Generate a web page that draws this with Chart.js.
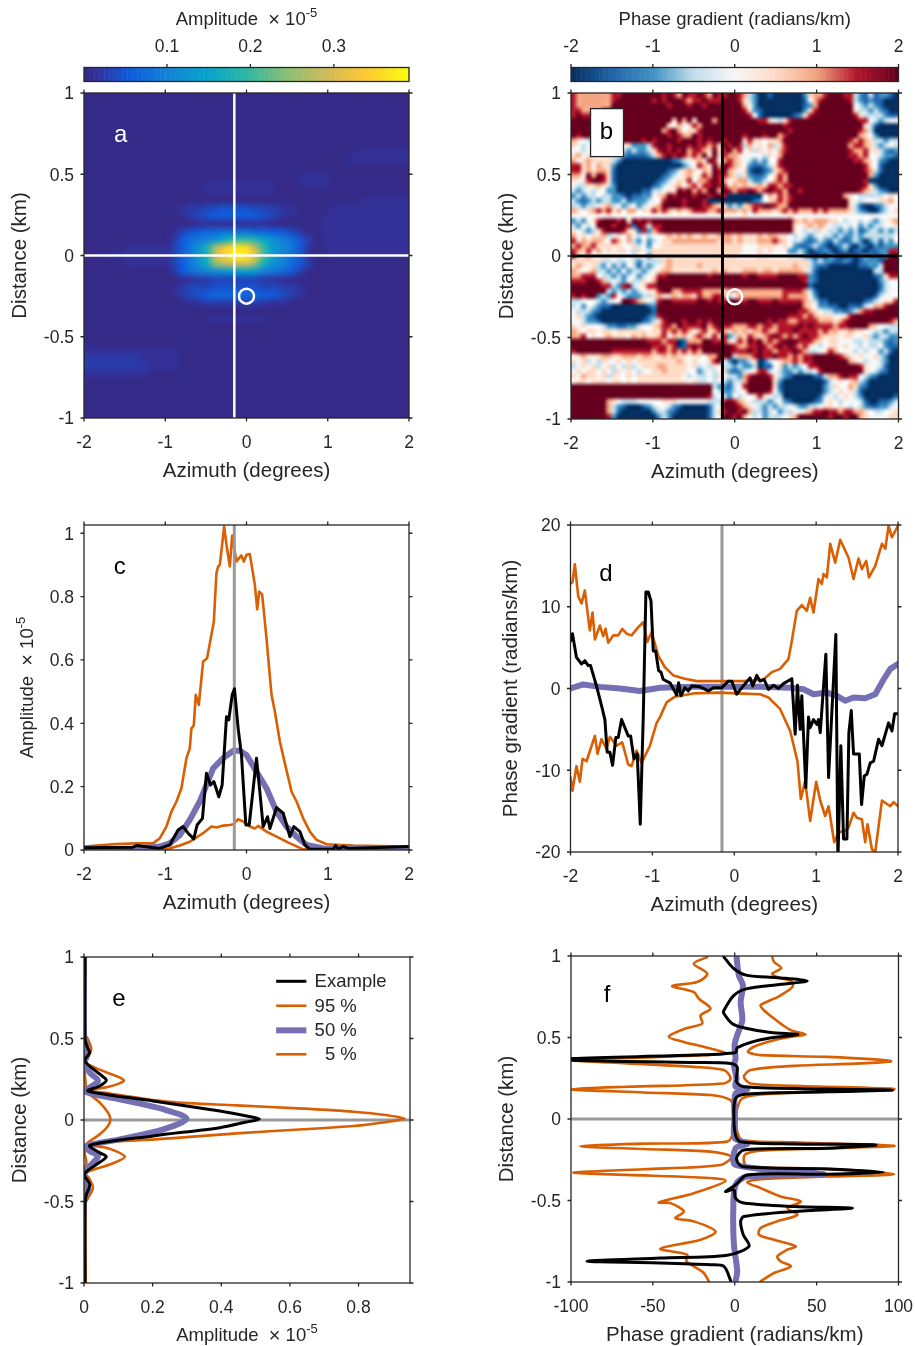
<!DOCTYPE html>
<html>
<head>
<meta charset="utf-8">
<title>Amplitude and phase gradient</title>
<script src="https://cdn.jsdelivr.net/npm/chart.js@4/dist/chart.umd.min.js"></script>
<style>
  body { margin: 0; background: #fff; }
  #fig { position: relative; width: 915px; height: 1346px; overflow: hidden; }
  canvas { position: absolute; }
</style>
</head>
<body>
<div id="fig"></div>
<script>
// axis ticks
const azimuthTicks = [-2, -1, 0, 1, 2];
const distanceTicks = [-1, -0.5, 0, 0.5, 1];
const ampBarTicks = [0.1, 0.2, 0.3];
const phaseBarTicks = [-2, -1, 0, 1, 2];
const ampYTicks = [0, 0.2, 0.4, 0.6, 0.8, 1];
const phaseYTicks = [-20, -10, 0, 10, 20];
const ampXTicks = [0, 0.2, 0.4, 0.6, 0.8];
const phaseXTicks = [-100, -50, 0, 50, 100];
const legendLabels = ["Example", "95 %", "50 %", "  5 %"];

// reference lines
const refAzimuth = -0.15;
const examplePoint = [{ x: 0, y: -0.25 }];

// panel a: amplitude grid, one char per cell (base 36, each step 0.011), top row is 1 km
const ampStep = 0.011;
const ampGrid = [
  "0000000000 0000000000 0000000000 0000000000 0",
  "0000000000 0000000000 0000000000 0000000000 0",
  "0000000000 0000000000 0000000000 0000000000 0",
  "0000000000 0000000000 0000000000 0000000000 0",
  "0000000000 0000000000 0000000000 0000000000 0",
  "0000000000 0000000000 0000000000 0000000000 0",
  "0000000000 0000000000 0000000000 0000000000 0",
  "0000000000 0000000000 0000000000 0000111111 1",
  "0000000000 0000000000 0000000000 0001111111 1",
  "0000000000 0000000000 0000000000 0000000000 0",
  "0000000000 0000000000 0000000111 1000000000 0",
  "0000000000 0000011111 1111000111 1000000000 0",
  "0000000000 0000011111 1111000000 0000000000 0",
  "0000000000 0000000000 0000000000 0000011111 1",
  "0000000000 0112233444 4332211000 0111111111 1",
  "0000000000 0012345555 5543211000 1111111111 1",
  "0000000000 0000111111 1111000000 1111111111 1",
  "0000000000 0134566777 7665543100 1111111111 1",
  "0000000000 025789behi ihec986420 1111111111 1",
  "0000011111 1358bgntwx wqjdb97410 1111111111 1",
  "0001111111 1368cgpvyz ytkfa86410 0111111111 1",
  "0000011111 1358bfmpqr rnhca86420 0000000000 0",
  "0000000000 025789abcd dc98764200 0000000000 0",
  "0000000000 0011223333 3322110000 0000000000 0",
  "0000000000 0123334444 4433322100 0000000000 0",
  "0000000000 0123456667 6655432100 0000000000 0",
  "0000000000 0001122222 2221110000 0000000000 0",
  "0000000000 0000000000 0000000000 0000000000 0",
  "0000000000 0000011111 1110000000 0000000000 0",
  "0000000000 0000000000 0000000000 0000000000 0",
  "0000000000 0000000000 0000000000 0000000000 0",
  "0000000000 0000000000 0000000000 0000000000 0",
  "1111111111 1100000000 0000000000 0000000000 0",
  "2222222111 1100000000 0000000000 0000000000 0",
  "2222222211 1100000000 0000000000 0000000000 0",
  "1111111100 0000000000 0000000000 0000000000 0",
  "0000000000 0000000000 0000000000 0000000000 0",
  "0000000000 0000000000 0000000000 0000000000 0",
  "0000000000 0000000000 0000000000 0000000000 0",
  "0000000000 0000000000 0000000000 0000000000 0",
  "0000000000 0000000000 0000000000 0000000000 0"
];

// panel b: phase gradient grid, digit 0..8 means -2..2 rad/km, top row is 1 km
const phaseGrid = [
  "76666 66677 88888 88878 76877 87687 78876 32001 00000 02566 78887 73213 12210",
  "76666 66678 88888 87878 88767 78777 88875 32000 00000 01467 88888 73212 11000",
  "76666 66688 88888 88887 88878 87888 88886 42000 00000 01268 88888 84323 21000",
  "77666 67888 88888 88888 88888 88888 88887 52100 00000 02578 88888 85332 32100",
  "78777 78888 88888 88888 88888 88888 88888 74100 00001 25788 88888 87533 33211",
  "88888 88888 88888 88888 58685 88868 88888 88775 43578 88888 88888 88774 32344",
  "88888 88888 88888 88885 46457 68888 88888 88888 88788 88888 88888 88853 10000",
  "88888 88888 88888 88867 86455 78888 88888 88888 88878 88888 88888 88763 00000",
  "87888 88888 88888 88887 87668 78888 88887 88878 86788 88888 88888 88654 20000",
  "65434 48888 88887 87888 87888 78788 78885 75545 56888 88888 88888 76765 33233",
  "54343 34444 45222 37887 88878 77675 87873 64546 35788 88888 88888 67765 32343",
  "44343 34444 32322 35787 87867 76585 78674 53545 46788 88888 88888 76675 53212",
  "56454 44434 21111 23678 78767 68585 76654 44435 46888 88888 88888 77674 43221",
  "64565 55532 00000 00000 12345 65874 67654 32324 47888 88888 88888 87765 42100",
  "77564 65520 00000 00000 00234 76586 87654 21123 57888 88888 88888 88875 41000",
  "77565 66510 00000 00001 23565 46587 86545 10012 56788 88888 88888 88876 31000",
  "66486 87510 00000 00012 34564 57687 76535 21124 57688 88888 88888 88886 20000",
  "54578 87510 00000 00123 45574 66787 64566 32234 67688 88888 88888 88870 00000",
  "43355 65320 00000 01234 56467 57787 75656 55657 76778 88888 88888 88875 20000",
  "32343 44220 00001 13345 58786 76886 87677 87678 77688 78888 88888 88765 32100",
  "23233 43322 10112 24568 78887 88788 70000 00046 57678 88888 88886 54333 33454",
  "32123 23322 31222 34478 88788 87000 00000 01245 67678 88888 88888 54344 45564",
  "33233 45634 23423 45688 88788 87765 52325 67788 76688 88888 88888 53100 12344",
  "65456 76756 46645 57676 56567 77667 66656 57666 56767 66676 76666 53210 02345",
  "44444 44544 44444 44444 44444 44444 44445 44444 44454 44444 44444 44444 44444",
  "23245 78887 85878 78888 88888 88888 88888 88888 88886 56566 65543 44343 23456",
  "32434 88878 87187 37788 88888 88888 88888 88888 88885 45656 54334 34232 33445",
  "54323 57888 75517 26788 88888 88888 88888 88888 88885 43435 43323 23123 32323",
  "64545 56345 46434 34456 56565 56556 66565 55656 65543 43234 33232 23233 33334",
  "75656 65476 46324 23455 66666 66665 66565 55666 76543 32123 21321 23202 31324",
  "67667 55555 44534 24455 55555 55555 55554 44555 54542 11232 10123 10210 21222",
  "76575 64545 54354 35555 55555 55555 55554 44545 44422 32011 21012 01101 12277",
  "75564 45454 44344 25555 55555 55555 55544 44554 44433 32101 02100 10121 11288",
  "55555 53343 34323 33356 55555 55555 55555 55555 55555 55323 22112 10122 21888",
  "56545 32423 24313 23456 55555 65555 55555 55555 55556 55321 10000 00112 23888",
  "65456 33232 42332 34566 55555 55565 65556 66566 56666 65310 00000 00000 33888",
  "66777 43323 23423 45778 88888 88788 88887 88777 78888 77210 00000 00000 12577",
  "77788 76343 24335 46888 88888 88888 88888 88888 88888 87210 00000 00000 02344",
  "88888 87732 78345 77888 88888 88888 88888 88888 88888 88100 00000 00000 01344",
  "88888 88323 23234 55788 66777 76666 56666 66666 66777 76310 00000 00000 02344",
  "78788 23274 32223 35655 65665 76677 63466 66666 66766 66420 00000 00000 13444",
  "33444 32344 88765 43788 77777 88787 78877 88777 87777 76531 10000 00012 34557",
  "34243 21100 00000 12888 88888 88888 88888 88888 88888 86542 21100 11134 66788",
  "43332 10000 00000 01888 88888 88888 88888 88888 88888 77654 33221 23677 88888",
  "45321 00000 00000 12788 88888 88888 88888 88888 88877 76765 55445 78888 88888",
  "44322 10000 00001 23578 88788 78788 88888 88887 87766 77776 66567 88888 88876",
  "54544 43221 12234 45677 68777 78678 77666 77677 67777 87877 77677 88886 54433",
  "65455 45545 55555 45576 76764 67567 65656 56676 67778 77776 76655 65544 33233",
  "66745 45655 54656 55674 65646 76575 72365 76567 87676 78776 55545 54453 23322",
  "88888 88888 88888 77767 70166 68877 75576 87867 67888 77765 45544 43343 33212",
  "88888 88888 88888 87776 70178 78888 88766 77876 78787 67543 45545 44343 34211",
  "78888 88877 77777 76776 76767 68888 88777 87877 67778 76334 57644 43434 42310",
  "45655 56655 66656 65565 65545 54668 88366 67877 87767 67788 88876 54544 53200",
  "54534 35445 45455 55555 56545 44578 42022 35013 45667 67788 88888 65434 43200",
  "34545 34534 35345 55665 55545 34354 33232 23011 45232 34778 88888 88754 43100",
  "45455 45435 45434 45565 55544 23434 52123 45773 43223 23347 88888 88854 32100",
  "54655 45354 45455 55555 55434 33435 43326 78887 53210 00011 36678 77432 10000",
  "45545 55455 45455 55555 55545 33434 32336 88888 52000 00000 13454 56320 00000",
  "88888 88888 88888 88888 88888 88832 21347 88888 51000 00000 23544 65210 00000",
  "88888 88888 88888 88888 88888 88843 22345 88887 42000 00000 23454 53100 00000",
  "88888 88888 88888 88888 88888 88734 32434 45754 33000 00001 34345 43200 00001",
  "88888 88654 33344 44455 54444 44333 78765 43332 34210 00012 45434 44310 01123",
  "88888 88632 10001 23443 21000 00134 88876 54323 23343 22334 55454 34321 12234",
  "88888 88631 00000 02332 10000 00135 78878 63323 42334 45677 87767 76654 33445",
  "88888 88720 00000 00232 00000 00134 88786 43423 33456 88888 87887 88654 44455"
];

// panel c: amplitude along azimuth
const cHighX = [-2, -1.766, -1.602, -1.355, -1.15, -1.068, -0.986, -0.924, -0.862, -0.801, -0.739, -0.698, -0.678, -0.649, -0.624, -0.587, -0.534, -0.485, -0.402, -0.37, -0.349, -0.328, -0.275, -0.246, -0.205, -0.176, -0.156, -0.123, -0.062, -0.033, 0, 0.041, 0.103, 0.132, 0.156, 0.193, 0.246, 0.308, 0.349, 0.411, 0.472, 0.555, 0.616, 0.698, 0.78, 0.862, 0.986, 1.314, 2];
const cHighY = [0.011, 0.016, 0.019, 0.021, 0.021, 0.037, 0.074, 0.121, 0.153, 0.195, 0.29, 0.321, 0.384, 0.393, 0.49, 0.458, 0.595, 0.605, 0.721, 0.874, 0.895, 0.9, 1.021, 0.963, 0.895, 0.993, 0.958, 0.911, 0.93, 0.911, 0.932, 0.934, 0.837, 0.76, 0.816, 0.806, 0.669, 0.49, 0.437, 0.342, 0.274, 0.184, 0.153, 0.1, 0.058, 0.032, 0.018, 0.014, 0.011];
const cLowX = [-2, -1.15, -0.986, -0.821, -0.698, -0.534, -0.431, -0.37, -0.287, -0.205, -0.164, -0.103, -0.041, 0.041, 0.103, 0.144, 0.246, 0.37, 0.534, 0.698, 0.945, 2];
const cLowY = [0.005, 0.002, 0.002, 0.014, 0.026, 0.053, 0.074, 0.071, 0.077, 0.079, 0.081, 0.097, 0.09, 0.074, 0.068, 0.076, 0.058, 0.042, 0.021, 0.002, 0.001, 0.002];
const cMidX = [-2, -1.355, -1.068, -0.945, -0.821, -0.698, -0.575, -0.493, -0.411, -0.287, -0.164, -0.082, 0, 0.123, 0.246, 0.37, 0.493, 0.616, 0.739, 0.945, 2];
const cMidY = [0.002, 0.005, 0.011, 0.021, 0.047, 0.095, 0.153, 0.205, 0.258, 0.29, 0.313, 0.313, 0.3, 0.247, 0.195, 0.121, 0.074, 0.042, 0.016, 0.005, 0.002];
const cExampleX = [-2, -1.396, -1.355, -1.068, -0.945, -0.842, -0.78, -0.719, -0.649, -0.608, -0.542, -0.493, -0.443, -0.402, -0.341, -0.3, -0.246, -0.218, -0.176, -0.148, -0.103, -0.062, -0.008, 0.033, 0.074, 0.123, 0.164, 0.205, 0.259, 0.288, 0.37, 0.452, 0.534, 0.583, 0.657, 0.719, 0.78, 1.068, 1.097, 1.13, 1.191, 1.253, 2];
const cExampleY = [0.007, 0.009, 0.014, 0.005, 0.016, 0.063, 0.074, 0.053, 0.035, 0.079, 0.1, 0.242, 0.205, 0.216, 0.168, 0.205, 0.421, 0.411, 0.49, 0.509, 0.384, 0.3, 0.079, 0.079, 0.174, 0.29, 0.184, 0.074, 0.105, 0.068, 0.134, 0.116, 0.042, 0.074, 0.058, 0.016, 0.002, 0.002, 0.014, 0.003, 0.011, 0.005, 0.011];

// panel d: phase gradient along azimuth
const dHighX = [-2, -1.976, -1.947, -1.906, -1.865, -1.825, -1.764, -1.731, -1.702, -1.641, -1.6, -1.572, -1.539, -1.478, -1.417, -1.368, -1.315, -1.254, -1.172, -1.111, -1.062, -1.009, -0.928, -0.846, -0.744, -0.602, -0.459, -0.174, 0.112, 0.356, 0.458, 0.56, 0.662, 0.703, 0.764, 0.825, 0.886, 0.927, 0.968, 1.029, 1.07, 1.09, 1.131, 1.172, 1.233, 1.294, 1.396, 1.457, 1.518, 1.559, 1.612, 1.645, 1.722, 1.804, 1.845, 1.885, 1.926, 2];
const dHighY = [12.8, 13, 15.2, 11.3, 10.4, 12, 7.1, 9.3, 6, 7.7, 6.4, 7.3, 5.6, 6.5, 6.5, 7.3, 6.7, 6.5, 7.5, 8.1, 5.7, 6.9, 4, 2.6, 1.6, 1.2, 0.9, 0.9, 0.9, 1.1, 2, 2.4, 3.6, 5.8, 9.5, 10.2, 9.5, 11.1, 9.3, 13.4, 12.8, 14, 13.6, 17.7, 15.4, 18.2, 16, 13.4, 15.9, 14.6, 15.6, 13.6, 15, 17.7, 17.1, 19.9, 18.5, 19.9];
const dLowX = [-2, -1.976, -1.927, -1.886, -1.853, -1.804, -1.702, -1.67, -1.621, -1.56, -1.519, -1.437, -1.368, -1.295, -1.254, -1.193, -1.132, -1.03, -0.948, -0.907, -0.826, -0.724, -0.5, -0.174, 0.03, 0.316, 0.418, 0.56, 0.683, 0.772, 0.813, 0.866, 0.927, 1.001, 1.05, 1.111, 1.152, 1.221, 1.274, 1.355, 1.396, 1.457, 1.498, 1.559, 1.6, 1.628, 1.682, 1.722, 1.804, 1.906, 1.946, 2];
const dLowY = [-10.9, -12.5, -9.5, -11.4, -8.6, -8.9, -5.8, -8, -6.2, -7.4, -5.9, -7, -6.6, -9.3, -9.5, -7.6, -9.1, -7, -4.2, -3.5, -1.7, -1, -0.6, -0.5, -0.6, -0.7, -1.1, -2.5, -5.2, -8.9, -13.5, -11.3, -16.2, -11.4, -13.7, -15.6, -14.4, -18.8, -17.6, -17.4, -17, -15.2, -15.8, -16, -18.8, -16.6, -19.7, -20, -13.7, -14.4, -13.9, -14.4];
const dMidX = [-2, -1.845, -1.641, -1.397, -1.152, -0.907, -0.5, -0.092, 0.316, 0.683, 0.846, 0.968, 1.131, 1.253, 1.355, 1.457, 1.6, 1.722, 1.824, 1.906, 2];
const dMidY = [0, 0.5, 0.2, 0, -0.3, 0.1, 0.2, 0.2, 0.2, 0.1, -0.1, -0.7, -0.5, -0.9, -1.5, -1.1, -1.2, -0.7, 1.1, 2.4, 3];
const dExampleX = [-2, -1.976, -1.927, -1.865, -1.825, -1.784, -1.755, -1.682, -1.621, -1.58, -1.552, -1.519, -1.486, -1.446, -1.417, -1.376, -1.295, -1.266, -1.225, -1.185, -1.148, -1.111, -1.079, -1.05, -1.017, -0.989, -0.96, -0.924, -0.895, -0.867, -0.785, -0.703, -0.679, -0.651, -0.602, -0.561, -0.52, -0.418, -0.316, -0.255, -0.153, -0.072, -0.031, 0.03, 0.092, 0.193, 0.226, 0.275, 0.316, 0.365, 0.418, 0.479, 0.54, 0.601, 0.703, 0.744, 0.772, 0.805, 0.825, 0.874, 0.907, 0.927, 0.968, 1.009, 1.029, 1.05, 1.119, 1.152, 1.192, 1.241, 1.266, 1.302, 1.335, 1.376, 1.4, 1.429, 1.457, 1.527, 1.555, 1.588, 1.62, 1.661, 1.702, 1.763, 1.804, 1.885, 1.926, 1.959, 2];
const dExampleY = [5.8, 6.7, 3.8, 3, 3.4, 2.8, 2.8, 0.3, -2.1, -3.8, -7.8, -7.8, -9.4, -6, -6, -3.8, -5.8, -5.8, -8.6, -8, -16.6, -3.3, 11.8, 11.8, 10.7, 4.6, 4.6, 2.2, 2, 1.1, 0.7, -0.8, 0.7, -0.9, 0.1, -0.3, 0.3, 0.2, -0.3, 0.1, 0.1, 0.9, 0.9, -0.7, 0.1, 1.3, 0.3, 1.6, 0.9, 1.1, -0.1, 0.4, 0, 0.6, 1.2, -5.6, 0.4, -5, -0.9, -12.1, -3.5, -4.8, -3.8, -4.4, -3.8, -5.4, 4.2, -10.9, -2.9, 6.6, -21, -7, -18.4, -18.4, -5.4, -2.7, -8, -8, -14.2, -10.7, -10.5, -9.1, -8.9, -6.2, -7, -4.2, -5.2, -3.1, -3.1];

// panel e: amplitude along distance
const eHighX = [0.005, 0.005, 0.009, 0.021, 0.007, 0.055, 0.116, 0.075, 0.007, 0.055, 0.25, 0.445, 0.639, 0.785, 0.883, 0.934, 0.883, 0.785, 0.639, 0.445, 0.25, 0.055, 0.007, 0.065, 0.119, 0.075, 0.005, 0.017, 0.026, 0.012, 0.005, 0.005];
const eHighY = [1, 0.517, 0.506, 0.435, 0.353, 0.301, 0.244, 0.205, 0.178, 0.168, 0.111, 0.09, 0.07, 0.051, 0.029, 0.008, -0.012, -0.037, -0.057, -0.082, -0.113, -0.139, -0.156, -0.17, -0.226, -0.273, -0.324, -0.365, -0.416, -0.478, -0.508, -1];
const eLowX = [0.003, 0.003, 0.004, 0.002, 0.005, 0.007, 0.046, 0.07, 0.077, 0.07, 0.046, 0.007, 0.002, 0.007, 0.001, 0.003, 0.003];
const eLowY = [1, 0.496, 0.373, 0.291, 0.228, 0.178, 0.107, 0.045, 0.004, -0.037, -0.088, -0.149, -0.201, -0.261, -0.324, -0.508, -1];
const eMidX = [0, 0, 0.007, 0.009, 0, 0.017, 0.041, 0.017, 0.005, 0.104, 0.231, 0.299, 0.231, 0.104, 0.005, 0.017, 0.041, 0.017, 0, 0.007, 0.012, 0, -0.003];
const eMidY = [1, 0.517, 0.455, 0.394, 0.353, 0.291, 0.24, 0.199, 0.172, 0.127, 0.066, 0.008, -0.057, -0.119, -0.16, -0.191, -0.221, -0.283, -0.334, -0.385, -0.426, -0.488, -1];
const eExampleX = [0.003, 0.003, 0.012, 0.017, 0.002, 0.046, 0.065, 0.046, 0.012, 0.201, 0.396, 0.47, 0.511, 0.47, 0.396, 0.201, 0.017, 0.046, 0.065, 0.036, 0, 0.017, 0.007, 0.003, 0.003];
const eExampleY = [1, 0.496, 0.435, 0.414, 0.363, 0.281, 0.244, 0.209, 0.178, 0.117, 0.055, 0.026, 0.006, -0.014, -0.047, -0.098, -0.156, -0.201, -0.226, -0.273, -0.334, -0.396, -0.457, -0.508, -1];

// panel f: phase gradient along distance
const fHighX = [22.9, 24, 28.4, 22.9, 26, 34.6, 35.2, 28, 24, 15.8, 17.8, 24, 28, 34.2, 43.3, 34.2, 24, 11.7, 8.1, 15.8, 56.6, 95.3, 77, 36.2, 9.7, 5.6, 9.7, 36.2, 97.4, 56.6, 15.8, 4.6, 1.5, 1.1, 1.5, 4.6, 36.2, 97.4, 56.6, 15.8, 6.6, 5.6, 7.6, 56.6, 97.4, 56.6, 15.8, 7.6, 15.8, 28, 40.3, 32.1, 38.2, 26, 15.8, 14.8, 24, 37.2, 32.1, 26, 28, 34.2, 24, 15.8];
const fHighY = [0.993, 0.963, 0.926, 0.891, 0.871, 0.845, 0.81, 0.759, 0.738, 0.698, 0.667, 0.616, 0.585, 0.545, 0.518, 0.504, 0.483, 0.443, 0.412, 0.392, 0.381, 0.355, 0.341, 0.326, 0.3, 0.259, 0.218, 0.204, 0.184, 0.167, 0.151, 0.126, 0.065, 0, -0.078, -0.129, -0.143, -0.165, -0.18, -0.194, -0.216, -0.261, -0.292, -0.306, -0.339, -0.353, -0.369, -0.388, -0.424, -0.475, -0.506, -0.547, -0.588, -0.628, -0.669, -0.71, -0.741, -0.781, -0.802, -0.843, -0.873, -0.904, -0.945, -0.996];
const fLowX = [-16.8, -25, -16.8, -22.9, -38.2, -25, -21.9, -14.8, -20.9, -19.9, -30.1, -40.3, -31.1, -14.8, -5.6, -45.4, -100, -65.8, -25, -6.6, -2.5, -6.6, -65.8, -100, -55.6, -14.8, -2.5, -0.9, -0.9, -0.9, -4.6, -55.6, -94.3, -55.6, -14.8, -2.1, -8.7, -55.6, -98.4, -65.8, -25, -5.6, -25, -46.4, -39.3, -31.1, -36.2, -25, -11.7, -20.9, -45.4, -29.1, -29.5, -25, -18.9, -15.8];
const fLowY = [0.993, 0.953, 0.891, 0.84, 0.816, 0.779, 0.738, 0.677, 0.636, 0.585, 0.555, 0.504, 0.473, 0.432, 0.402, 0.381, 0.361, 0.341, 0.32, 0.3, 0.249, 0.218, 0.198, 0.182, 0.163, 0.147, 0.116, 0.065, 0, -0.078, -0.139, -0.151, -0.167, -0.184, -0.2, -0.231, -0.282, -0.308, -0.328, -0.343, -0.357, -0.379, -0.455, -0.512, -0.516, -0.567, -0.608, -0.628, -0.69, -0.741, -0.796, -0.832, -0.873, -0.904, -0.945, -0.996];
const fMidX = [1.1, 2.5, 5, 3.6, 4.6, 1.5, -0.1, 0.5, -0.5, 1.1, 0.5, 7.6, 0.5, -0.1, -0.1, 7.6, 0.5, 0.5, 54.5, 7.6, 0.5, -0.9, -0.5, 1.5, 0.5];
const fMidY = [0.993, 0.881, 0.82, 0.718, 0.606, 0.514, 0.453, 0.371, 0.33, 0.249, 0.198, 0.184, 0.157, 0, -0.118, -0.151, -0.18, -0.282, -0.339, -0.353, -0.404, -0.567, -0.771, -0.934, -0.996];
const fExampleX = [-6.6, -0.5, 7.6, 26, 44.3, 26, 7.6, -0.5, -6.6, -6.6, -1.5, 7.6, 21.9, 38.6, 19.9, 10.7, 1.5, 0.5, -25, -100, -100, -25, -2.5, 1.5, 1.1, 5.6, 56.6, 96.3, 56.6, 7.6, 0.5, -0.5, 0.5, 3.6, 36.2, 86.1, 56.6, 5.6, 1.1, 4.6, 56.6, 90.8, 56.6, 7.6, 0.5, -5.6, -0.5, 0.5, 5.6, 36.2, 71.9, 36.2, 5.6, 3.6, 5.2, 8.7, -4.6, -45.4, -90.2, -45.4, -14.8, -6.6, -2.5];
const fExampleY = [0.993, 0.922, 0.881, 0.867, 0.847, 0.824, 0.8, 0.759, 0.667, 0.647, 0.585, 0.555, 0.53, 0.518, 0.494, 0.473, 0.437, 0.408, 0.392, 0.371, 0.361, 0.347, 0.341, 0.32, 0.228, 0.198, 0.184, 0.177, 0.167, 0.153, 0.126, 0, -0.098, -0.139, -0.153, -0.159, -0.18, -0.19, -0.241, -0.292, -0.306, -0.326, -0.339, -0.343, -0.404, -0.445, -0.435, -0.486, -0.516, -0.537, -0.547, -0.567, -0.598, -0.628, -0.71, -0.781, -0.836, -0.853, -0.873, -0.883, -0.894, -0.904, -0.991];

// colours
const parulaStops = [[0, "#352a87"], [0.03, "#333098"], [0.14, "#0f5cdd"], [0.25, "#1481d6"], [0.38, "#06a4ca"], [0.5, "#2eb7a4"], [0.62, "#87bf77"], [0.75, "#d1bb59"], [0.87, "#fec832"], [1, "#f9fb0e"]];
const rdBuStops = [[0, "#053061"], [0.125, "#2166ac"], [0.25, "#4393c3"], [0.375, "#c3deec"], [0.5, "#f7f7f7"], [0.625, "#fddbc7"], [0.75, "#f4a582"], [0.875, "#b2182b"], [1, "#67001f"]];
const orange = "#d95f02";
const purple = "#7570b3";
const grey = "#999999";
const dark = "#262626";
const fontFamily = "'Liberation Sans', Arial, sans-serif";

Chart.defaults.font.family = fontFamily;
Chart.defaults.color = dark;
Chart.defaults.animation = false;

function hexToRgb(h) {
  return [1, 3, 5].map(i => parseInt(h.substr(i, 2), 16));
}

function colorAt(stops, t) {
  t = Math.max(0, Math.min(1, t));
  for (let i = 1; i < stops.length; i++) {
    if (t <= stops[i][0]) {
      const f = (t - stops[i - 1][0]) / (stops[i][0] - stops[i - 1][0]);
      const a = hexToRgb(stops[i - 1][1]);
      const b = hexToRgb(stops[i][1]);
      return a.map((v, k) => Math.round(v + (b[k] - v) * f));
    }
  }
  return hexToRgb(stops[stops.length - 1][1]);
}

function zip(xs, ys) {
  return xs.map((x, i) => ({ x: x, y: ys[i] }));
}

function lineSet(xs, ys, color, width, tension) {
  return { data: zip(xs, ys), showLine: true, pointRadius: 0, borderColor: color, borderWidth: width, borderJoinStyle: "round", borderCapStyle: "round", tension: tension || 0 };
}

// turn a grid of strings into a small bitmap, drawn later on the chart scales
function gridImage(rows, cols, colorOf) {
  const c = document.createElement("canvas");
  c.width = cols;
  c.height = rows.length;
  const g = c.getContext("2d");
  const img = g.createImageData(cols, rows.length);
  rows.forEach((row, r) => {
    for (let k = 0; k < cols; k++) {
      const rgb = colorOf(row[k]);
      const p = (r * cols + k) * 4;
      img.data[p] = rgb[0];
      img.data[p + 1] = rgb[1];
      img.data[p + 2] = rgb[2];
      img.data[p + 3] = 255;
    }
  });
  g.putImageData(img, 0, 0);
  return c;
}

function heatPlugin(image) {
  return {
    id: "heat",
    beforeDatasetsDraw(chart) {
      const { x, y } = chart.scales;
      const ctx = chart.ctx;
      ctx.save();
      ctx.imageSmoothingEnabled = true;
      ctx.imageSmoothingQuality = "high";
      const left = x.getPixelForValue(x.min);
      const top = y.getPixelForValue(y.max);
      ctx.drawImage(image, left, top, x.getPixelForValue(x.max) - left, y.getPixelForValue(y.min) - top);
      ctx.restore();
    }
  };
}

function colorbarPlugin(stops) {
  return {
    id: "colorbar",
    beforeDatasetsDraw(chart) {
      const { x } = chart.scales;
      const area = chart.chartArea;
      const ctx = chart.ctx;
      const steps = 128;
      for (let i = 0; i < steps; i++) {
        const v0 = x.min + (x.max - x.min) * i / steps;
        const v1 = x.min + (x.max - x.min) * (i + 1) / steps;
        const px = x.getPixelForValue(v0);
        ctx.fillStyle = "rgb(" + colorAt(stops, i / (steps - 1)).join(",") + ")";
        ctx.fillRect(px, area.top, x.getPixelForValue(v1) - px + 0.5, area.bottom - area.top);
      }
    }
  };
}

// frame plus outward ticks on all sides, like the original axes
function framePlugin(topOnly) {
  return {
    id: "frame",
    afterDatasetsDraw(chart) {
      const { x, y } = chart.scales;
      const a = chart.chartArea;
      const ctx = chart.ctx;
      const len = 3.5;
      ctx.save();
      ctx.strokeStyle = dark;
      ctx.lineWidth = 1.3;
      ctx.strokeRect(a.left, a.top, a.right - a.left, a.bottom - a.top);
      ctx.beginPath();
      x.ticks.forEach(t => {
        const px = x.getPixelForValue(t.value);
        ctx.moveTo(px, a.top);
        ctx.lineTo(px, a.top - len);
        if (!topOnly) {
          ctx.moveTo(px, a.bottom);
          ctx.lineTo(px, a.bottom + len);
        }
      });
      if (!topOnly) {
        y.ticks.forEach(t => {
          const py = y.getPixelForValue(t.value);
          ctx.moveTo(a.left, py);
          ctx.lineTo(a.left - len, py);
          ctx.moveTo(a.right, py);
          ctx.lineTo(a.right + len, py);
        });
      }
      ctx.stroke();
      ctx.restore();
    }
  };
}

function letterPlugin(text, vx, vy, color, boxed) {
  return {
    id: "letter",
    afterDatasetsDraw(chart) {
      const ctx = chart.ctx;
      const px = chart.scales.x.getPixelForValue(vx);
      const py = chart.scales.y.getPixelForValue(vy);
      ctx.save();
      if (boxed) {
        ctx.fillStyle = "#fff";
        ctx.strokeStyle = dark;
        ctx.lineWidth = 1.3;
        ctx.fillRect(px - 16, py - 24, 33, 48);
        ctx.strokeRect(px - 16, py - 24, 33, 48);
      }
      ctx.fillStyle = color;
      ctx.font = "24px " + fontFamily;
      ctx.textAlign = "center";
      ctx.textBaseline = "middle";
      ctx.fillText(text, px, py);
      ctx.restore();
    }
  };
}

// "Amplitude x 10^-5" needs a raised exponent, which axis titles cannot do
function ampLabelPlugin(side, pos) {
  return {
    id: "ampLabel",
    afterDraw(chart) {
      const ctx = chart.ctx;
      const a = chart.chartArea;
      ctx.save();
      if (side === "left") {
        ctx.translate(a.left - pos, (a.top + a.bottom) / 2);
        ctx.rotate(-Math.PI / 2);
      } else if (side === "top") {
        ctx.translate((a.left + a.right) / 2, a.top - pos);
      } else {
        ctx.translate((a.left + a.right) / 2, a.bottom + pos);
      }
      ctx.fillStyle = dark;
      ctx.textBaseline = "middle";
      ctx.textAlign = "left";
      const big = "18.5px " + fontFamily;
      const mid = "20px " + fontFamily;
      const small = "13px " + fontFamily;
      const parts = [["Amplitude  ", big, 0], ["\u00d7", mid, 0], [" 10", big, 0], ["-5", small, -7]];
      let w = 0;
      parts.forEach(p => { ctx.font = p[1]; w += ctx.measureText(p[0]).width; });
      let cx = -w / 2;
      parts.forEach(p => {
        ctx.font = p[1];
        ctx.fillText(p[0], cx, p[2]);
        cx += ctx.measureText(p[0]).width;
      });
      ctx.restore();
    }
  };
}

const legendPlugin = {
  id: "panelLegend",
  afterDatasetsDraw(chart) {
    const { x, y } = chart.scales;
    const ctx = chart.ctx;
    const styles = [["#000", 3], [orange, 2.6], [purple, 6], [orange, 2.6]];
    const lineX0 = x.getPixelForValue(0.56);
    const lineX1 = x.getPixelForValue(0.648);
    const textX = x.getPixelForValue(0.672);
    const rowsY = [0.851, 0.701, 0.55, 0.403];
    ctx.save();
    ctx.font = "18.5px " + fontFamily;
    ctx.textBaseline = "middle";
    legendLabels.forEach((label, i) => {
      const py = y.getPixelForValue(rowsY[i]);
      ctx.strokeStyle = styles[i][0];
      ctx.lineWidth = styles[i][1];
      ctx.beginPath();
      ctx.moveTo(lineX0, py);
      ctx.lineTo(lineX1, py);
      ctx.stroke();
      ctx.fillStyle = dark;
      ctx.fillText(label, textX, py + 1);
    });
    ctx.restore();
  }
};

function linearAxis(position, min, max, ticks, title, size, tickPad, titleSize) {
  return {
    type: "linear",
    position: position,
    min: min,
    max: max,
    grid: { display: false, drawTicks: false },
    border: { display: false },
    ticks: { font: { size: 17.5 }, padding: tickPad, color: dark, autoSkip: false, maxRotation: 0, labelOffset: position === "left" ? 1.5 : 0, callback: v => String(v) },
    title: title ? { display: true, text: title, color: dark, font: { size: titleSize || 20.5 }, padding: 0 } : { display: false },
    afterBuildTicks: s => { s.ticks = ticks.map(v => ({ value: v })); },
    afterFit: s => {
      if (position === "left") s.width = size; else s.height = size;
      s.paddingLeft = 0; s.paddingRight = 0; s.paddingTop = 0; s.paddingBottom = 0;
    }
  };
}

// one chart per panel: p holds the plot box in page pixels, axes and plugins
function makePanel(p) {
  const leftW = p.leftW || 76;
  const bottomH = p.bottomH || 66;
  const pad = 12;
  const padRight = 17;
  const c = document.createElement("canvas");
  const cw = Math.ceil(leftW + p.w + padRight);
  const ch = Math.ceil(pad + p.h + bottomH);
  c.width = cw;
  c.height = ch;
  c.style.width = cw + "px";
  c.style.height = ch + "px";
  c.style.left = (p.l - leftW) + "px";
  c.style.top = (p.t - pad) + "px";
  document.getElementById("fig").appendChild(c);
  return new Chart(c.getContext("2d"), {
    type: "scatter",
    data: { datasets: p.datasets },
    plugins: p.plugins,
    options: {
      responsive: false,
      layout: { padding: { top: pad, right: cw - leftW - p.w, left: 0, bottom: 0 } },
      plugins: { legend: { display: false }, tooltip: { enabled: false } },
      scales: {
        x: linearAxis("bottom", p.xRange[0], p.xRange[1], p.xTicks, p.xTitle, bottomH, 15),
        y: linearAxis("left", p.yRange[0], p.yRange[1], p.yTicks, p.yTitle, leftW, 10)
      }
    }
  });
}

// colorbars sit on their own small charts with the axis on top
function makeColorbar(p) {
  const c = document.createElement("canvas");
  const top = 67.5;
  const barH = 14;
  const cw = Math.ceil(p.w + 40);
  const ch = Math.ceil(top + barH + 3);
  c.width = cw;
  c.height = ch;
  c.style.width = cw + "px";
  c.style.height = ch + "px";
  c.style.left = (p.l - 20) + "px";
  c.style.top = "0px";
  document.getElementById("fig").appendChild(c);
  const xAxis = linearAxis("top", p.range[0], p.range[1], p.ticks, p.title, top, 10, 18.5);
  if (p.title) xAxis.title.padding = { top: 9, bottom: 0 };
  return new Chart(c.getContext("2d"), {
    type: "scatter",
    data: { datasets: [] },
    plugins: p.plugins,
    options: {
      responsive: false,
      layout: { padding: { left: 20, right: cw - 20 - p.w, top: 0, bottom: ch - top - barH } },
      plugins: { legend: { display: false }, tooltip: { enabled: false } },
      scales: {
        x: xAxis,
        y: { display: false, min: 0, max: 1 }
      }
    }
  });
}

// colorbars
makeColorbar({
  l: 84, w: 325, range: [0.0006, 0.39], ticks: ampBarTicks,
  plugins: [colorbarPlugin(parulaStops), framePlugin(true), ampLabelPlugin("top", 47.5)]
});
makeColorbar({
  l: 570.5, w: 327.5, range: [-2, 2], ticks: phaseBarTicks, title: "Phase gradient (radians/km)",
  plugins: [colorbarPlugin(rdBuStops), framePlugin(true)]
});

// a
const ampRows = ampGrid.map(r => r.replace(/ /g, ""));
makePanel({
  l: 84, t: 93, w: 325, h: 325,
  xRange: [-2, 2], yRange: [-1, 1], xTicks: azimuthTicks, yTicks: distanceTicks,
  xTitle: "Azimuth (degrees)", yTitle: "Distance (km)",
  datasets: [
    { data: examplePoint, pointRadius: 7.5, pointBorderWidth: 2.5, pointBorderColor: "#fff", pointBackgroundColor: "rgba(0,0,0,0)" },
    lineSet([refAzimuth, refAzimuth], [-1, 1], "#fff", 2.5),
    lineSet([-2, 2], [0, 0], "#fff", 2.5)
  ],
  plugins: [
    heatPlugin(gridImage(ampRows, 41, ch => colorAt(parulaStops, parseInt(ch, 36) * ampStep / 0.39))),
    framePlugin(false), letterPlugin("a", -1.55, 0.74, "#fff", false)
  ]
});

// b
const phaseRows = phaseGrid.map(r => r.replace(/ /g, ""));
makePanel({
  l: 570.5, t: 93, w: 327.5, h: 325.5,
  xRange: [-2, 2], yRange: [-1, 1], xTicks: azimuthTicks, yTicks: distanceTicks,
  xTitle: "Azimuth (degrees)", yTitle: "Distance (km)",
  datasets: [
    { data: examplePoint, pointRadius: 7.5, pointBorderWidth: 2.5, pointBorderColor: "#fff", pointBackgroundColor: "rgba(0,0,0,0)" },
    lineSet([refAzimuth, refAzimuth], [-1, 1], "#000", 3),
    lineSet([-2, 2], [0, 0], "#000", 3)
  ],
  plugins: [
    heatPlugin(gridImage(phaseRows, 65, ch => colorAt(rdBuStops, Number(ch || 4) / 8))),
    framePlugin(false), letterPlugin("b", -1.566, 0.757, "#000", true)
  ]
});

// c
makePanel({
  l: 84, t: 525, w: 325, h: 325,
  xRange: [-2, 2], yRange: [0, 1.026], xTicks: azimuthTicks, yTicks: ampYTicks,
  xTitle: "Azimuth (degrees)",
  datasets: [
    lineSet(cExampleX, cExampleY, "#000", 3),
    lineSet([refAzimuth, refAzimuth], [0, 1.026], grey, 3),
    lineSet(cMidX, cMidY, purple, 6),
    lineSet(cHighX, cHighY, orange, 2.6),
    lineSet(cLowX, cLowY, orange, 2.6)
  ],
  plugins: [framePlugin(false), letterPlugin("c", -1.56, 0.893, "#000", false), ampLabelPlugin("left", 56)]
});

// d
makePanel({
  l: 570.5, t: 524.5, w: 327.5, h: 326.5, leftW: 71.5,
  xRange: [-2, 2], yRange: [-20, 20], xTicks: azimuthTicks, yTicks: phaseYTicks,
  xTitle: "Azimuth (degrees)", yTitle: "Phase gradient (radians/km)",
  datasets: [
    lineSet(dExampleX, dExampleY, "#000", 3),
    lineSet(dMidX, dMidY, purple, 6),
    lineSet(dHighX, dHighY, orange, 2.6),
    lineSet(dLowX, dLowY, orange, 2.6),
    lineSet([refAzimuth, refAzimuth], [-20, 20], grey, 3)
  ],
  plugins: [framePlugin(false), letterPlugin("d", -1.566, 13.9, "#000", false)]
});

// e
const curve = 0.3;
makePanel({
  l: 84, t: 956.5, w: 326, h: 325.5,
  xRange: [0, 0.95], yRange: [-1, 1], xTicks: ampXTicks, yTicks: distanceTicks,
  yTitle: "Distance (km)",
  datasets: [
    lineSet(eExampleX, eExampleY, "#000", 3, curve),
    lineSet(eMidX, eMidY, purple, 6, curve),
    lineSet(eHighX, eHighY, orange, 2.6, curve),
    lineSet(eLowX, eLowY, orange, 2.6, curve),
    lineSet([0, 0.95], [0, 0], grey, 3)
  ],
  plugins: [framePlugin(false), letterPlugin("e", 0.102, 0.74, "#000", false), ampLabelPlugin("bottom", 53), legendPlugin]
});

// f
makePanel({
  l: 570.5, t: 956, w: 327.5, h: 326,
  xRange: [-100, 100], yRange: [-1, 1], xTicks: phaseXTicks, yTicks: distanceTicks,
  xTitle: "Phase gradient (radians/km)", yTitle: "Distance (km)",
  datasets: [
    lineSet(fExampleX, fExampleY, "#000", 3, curve),
    lineSet(fMidX, fMidY, purple, 6, curve),
    lineSet(fHighX, fHighY, orange, 2.6, curve),
    lineSet(fLowX, fLowY, orange, 2.6, curve),
    lineSet([-100, 100], [0, 0], grey, 3)
  ],
  plugins: [framePlugin(false), letterPlugin("f", -78, 0.757, "#000", false)]
});
</script>
</body>
</html>
